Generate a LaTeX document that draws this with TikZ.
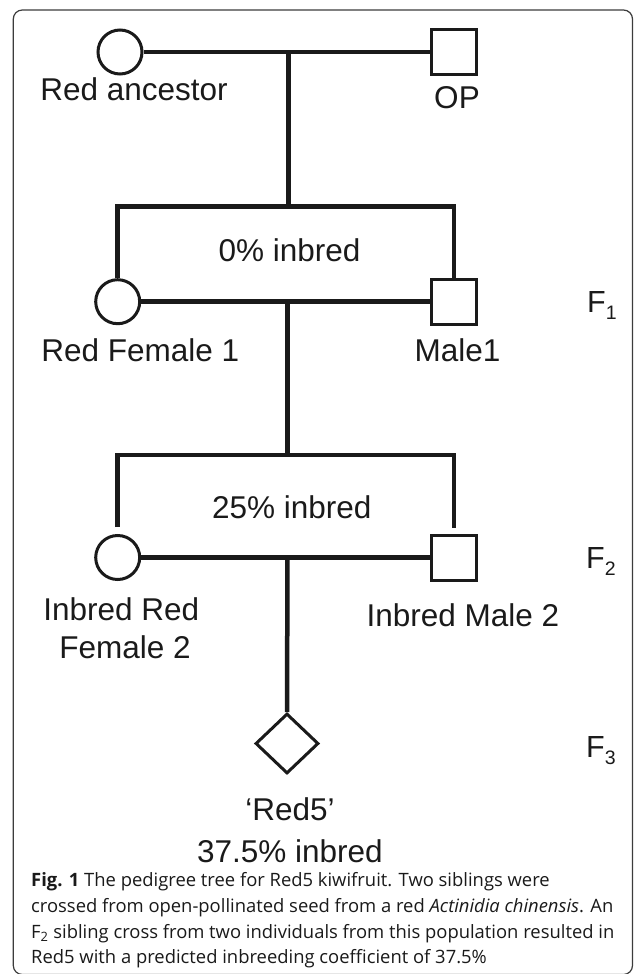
\documentclass[tikz,border=0pt]{standalone}
\usepackage{fontspec}
\setmainfont{Liberation Sans}
\newfontfamily\capfont{Open Sans}
\usetikzlibrary{shapes.geometric}
\definecolor{ink}{HTML}{1A1A1A}
\definecolor{framegray}{HTML}{3C3C3C}
\begin{document}
\begin{tikzpicture}[x=1pt,y=-1pt,
  kin/.style={draw=ink, line width=4.5pt},
  female/.style={circle, draw=ink, line width=3pt, minimum size=44pt, inner sep=0pt, fill=white},
  male/.style={rectangle, draw=ink, line width=3pt, minimum size=45pt, inner sep=0pt, fill=white},
  child/.style={diamond, draw=ink, line width=3pt, minimum width=63pt, minimum height=60pt, inner sep=0pt, fill=white},
  lbl/.style={text=ink, font=\fontsize{31.5}{38}\selectfont, inner sep=0pt, anchor=base},
  gen/.style={text=ink, font=\fontsize{30.5}{36}\selectfont, inner sep=0pt, anchor=base west},
  captext/.style={text=ink, font=\capfont\fontsize{18.4}{25}\selectfont, inner sep=0pt, anchor=base west}
]
\useasboundingbox (0,0) rectangle (633,974);
\fill[white] (0,0) rectangle (633,974);

% figure frame
\draw[framegray, line width=1.2pt, rounded corners=9pt] (13.3,10) rectangle (632.5,974.5);

% generation 0
\node[female] (anc) at (120,52) {};
\node[male]   (op)  at (453.5,52) {};
\coordinate (m0) at (288.5,52);
\coordinate (b1) at (288.5,206.7);

% generation 1
\node[female] (fem1) at (117.7,301.7) {};
\node[male]   (male1) at (453.8,301.7) {};
\coordinate (m1) at (287.5,301.7);
\coordinate (b2) at (287.5,455);

% generation 2
\node[female] (fem2) at (117.7,557.5) {};
\node[male]   (male2) at (453.8,557.5) {};
\coordinate (m2) at (287.5,557.5);

% generation 3
\node[child] (red5) at (287,743.5) {};

% matings and descent lines
\draw[kin] (anc.east) -- (op.west);
\draw[kin] (m0) -- (b1);
\draw[kin] (fem1.north) |- (b1) -| (male1.north);
\draw[kin] (fem1.east) -- (male1.west);
\draw[kin] (m1) -- (b2);
\draw[kin] ([yshift=7pt]fem2.north) |- (b2) -| ([yshift=6pt]male2.north);
\draw[kin] (fem2.east) -- (male2.west);
\draw[kin] (m2) -- (red5.north);

% individual labels
\node[lbl] (tanc)  at (134,100)   {Red ancestor};
\node[lbl] (top)   at (457,108.3) {OP};
\node[lbl] (tin1)  at (289.5,261) {0\% inbred};
\node[lbl] (tfem1) at (140.3,361.7) {Red Female 1};
\node[lbl] (tmal1) at (457.5,361.7) {Male1};
\node[lbl] (tin2)  at (291.7,518.3) {25\% inbred};
\node[lbl] (tfem2a) at (121.3,620) {Inbred Red};
\node[lbl] (tfem2b) at (125,658.3) {Female 2};
\node[lbl] (tmal2) at (463,626.7) {Inbred Male 2};
\node[lbl] (tred5) at (290,820) {`Red5'};
\node[lbl] (tin3)  at (290,862) {37.5\% inbred};

% generation markers
\node[gen] (g1) at (587,312.5) {F\raisebox{-7pt}{\fontsize{19.5}{19.5}\selectfont 1}};
\node[gen] (g2) at (586,568)   {F\raisebox{-7.5pt}{\fontsize{19.5}{19.5}\selectfont 2}};
\node[gen] (g3) at (586,757)   {F\raisebox{-7.5pt}{\fontsize{19.5}{19.5}\selectfont 3}};

% caption
\node[captext] (c1) at (31,886.5) {\textbf{Fig. 1} The pedigree tree for Red5 kiwifruit. Two siblings were};
\node[captext] (c2) at (31,912.5) {crossed from open-pollinated seed from a red \textit{Actinidia chinensis}. An};
\node[captext] (c3) at (31,938.3) {F\textsubscript{2} sibling cross from two individuals from this population resulted in};
\node[captext] (c4) at (31,963.3) {Red5 with a predicted inbreeding coefficient of 37.5\%};
\end{tikzpicture}
\end{document}
